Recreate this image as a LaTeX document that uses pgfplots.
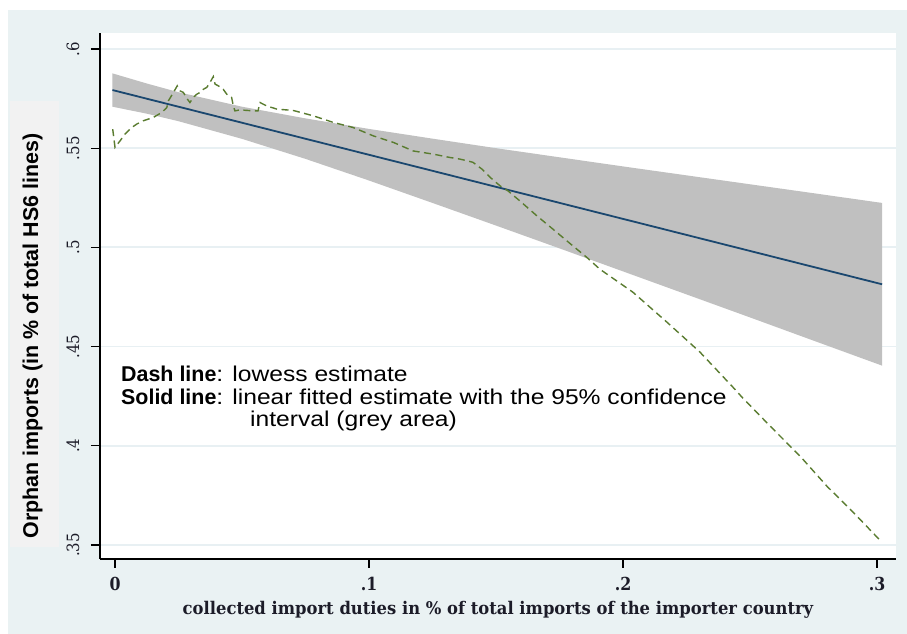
\documentclass[border=0pt]{standalone}
\usepackage{pgfplots}
\pgfplotsset{compat=1.18}
\usepackage{fontspec}
\setmainfont{Liberation Sans}
\newfontfamily\annotreg{Liberation Sans}[FakeStretch=1.15]
\newfontfamily\tickserif{DejaVu Serif}[FakeStretch=0.88]
\newfontfamily\labelserif{DejaVu Serif}[FakeStretch=0.94]

\definecolor{bgc}{RGB}{234,242,243}
\definecolor{labbox}{RGB}{242,242,242}
\definecolor{gridc}{RGB}{232,240,243}
\definecolor{bandc}{RGB}{192,192,192}
\definecolor{fitnavy}{RGB}{26,71,111}
\definecolor{lowgreen}{RGB}{90,124,48}
\definecolor{tickink}{RGB}{28,28,40}

% lowess estimate
\pgfplotstableread{
x y
-0.0009 0.5596
-0.0004 0.5545
0.0000 0.5504
0.0020 0.5537
0.0039 0.5571
0.0066 0.5604
0.0085 0.5621
0.0111 0.5638
0.0151 0.5655
0.0184 0.5680
0.0204 0.5705
0.0210 0.5738
0.0230 0.5781
0.0245 0.5814
0.0256 0.5789
0.0269 0.5781
0.0285 0.5747
0.0295 0.5730
0.0308 0.5756
0.0322 0.5772
0.0335 0.5781
0.0348 0.5797
0.0361 0.5806
0.0374 0.5831
0.0387 0.5861
0.0394 0.5823
0.0407 0.5814
0.0426 0.5797
0.0440 0.5772
0.0459 0.5756
0.0466 0.5713
0.0472 0.5688
0.0492 0.5693
0.0544 0.5688
0.0563 0.5688
0.0571 0.5730
0.0597 0.5713
0.0637 0.5697
0.0702 0.5690
0.0781 0.5663
0.0859 0.5630
0.0938 0.5604
0.1017 0.5562
0.1096 0.5529
0.1174 0.5486
0.1253 0.5470
0.1319 0.5453
0.1358 0.5445
0.1409 0.5429
0.1445 0.5394
0.1476 0.5354
0.1516 0.5310
0.1547 0.5285
0.1594 0.5234
0.1661 0.5159
0.1724 0.5092
0.1791 0.5020
0.1858 0.4949
0.1909 0.4890
0.2039 0.4774
0.2173 0.4623
0.2303 0.4472
0.2433 0.4295
0.2472 0.4240
0.2591 0.4084
0.2697 0.3948
0.2803 0.3796
0.2906 0.3665
0.3008 0.3529
}\lowess

% 95% confidence band of the linear fit: upper edge, then lower edge back
\pgfplotstableread{
x y
-0.001 0.5877
0.0125 0.5826
0.025 0.5782
0.05 0.5709
0.075 0.5650
0.1 0.5597
0.125 0.5548
0.15 0.5500
0.175 0.5454
0.2 0.5408
0.225 0.5363
0.25 0.5318
0.275 0.5273
0.302 0.5224
0.302 0.4404
0.275 0.4530
0.25 0.4647
0.225 0.4763
0.2 0.4879
0.175 0.4995
0.15 0.5110
0.125 0.5224
0.1 0.5337
0.075 0.5446
0.05 0.5547
0.025 0.5636
0.0125 0.5674
-0.001 0.5709
}\band

\begin{document}
\begin{tikzpicture}[x=1bp,y=1bp]
\useasboundingbox (0,0) rectangle (907,634);
\fill[white] (0,0) rectangle (907,634);
\fill[bgc] (8,0) rectangle (907,624);
\fill[labbox] (10,87) rectangle (59,533);
\node[rotate=90, font=\fontsize{21.5}{24}\selectfont\bfseries] at (32.5,298)
  {Orphan imports (in \% of total HS6 lines)};

\begin{axis}[
  at={(100bp,75bp)}, anchor=south west,
  scale only axis, width=796bp, height=526bp,
  xmin=-0.005906, xmax=0.30748,
  ymin=0.34294, ymax=0.60806,
  axis background/.style={fill=white},
  axis x line*=bottom, axis y line*=left,
  axis line style={-, black, line width=1.2bp},
  tick align=outside, major tick length=9bp,
  tick style={black, line width=1.2bp},
  xtick={0,0.1,0.2,0.3}, xticklabels={0,.1,.2,.3},
  ytick={0.35,0.4,0.45,0.5,0.55,0.6},
  yticklabels={.35,.4,.45,.5,.55,.6},
  ymajorgrids, major grid style={gridc, line width=1.8bp},
  xticklabel style={yshift=-6bp, font=\fontsize{18}{20}\selectfont\tickserif\bfseries, text=tickink},
  yticklabel style={xshift=-8bp, rotate=90, anchor=south, font=\fontsize{17}{19}\selectfont\tickserif, text=tickink},
  xlabel={collected import duties in \% of total imports of the importer country},
  xlabel style={font=\fontsize{17.5}{19}\selectfont\labelserif\bfseries, text=tickink, yshift=-3bp},
]
\addplot[fill=bandc, draw=none] table {\band} -- cycle;
\addplot[fitnavy, line width=1.8bp] coordinates {(-0.001,0.5793) (0.302,0.4814)};
\addplot[lowgreen, line width=1.4bp, dash pattern=on 7bp off 4.5bp] table {\lowess};
\end{axis}

\begin{scope}[every node/.style={anchor=base west, inner sep=0, font=\fontsize{21.5}{23}\selectfont}]
\node at (121,252.3) {\textbf{Dash line}\annotreg: lowess estimate};
\node at (121,229) {\textbf{Solid line}\annotreg: linear fitted estimate with the 95\% confidence};
\node at (250,207.3) {\annotreg interval (grey area)};
\end{scope}
\end{tikzpicture}
\end{document}
